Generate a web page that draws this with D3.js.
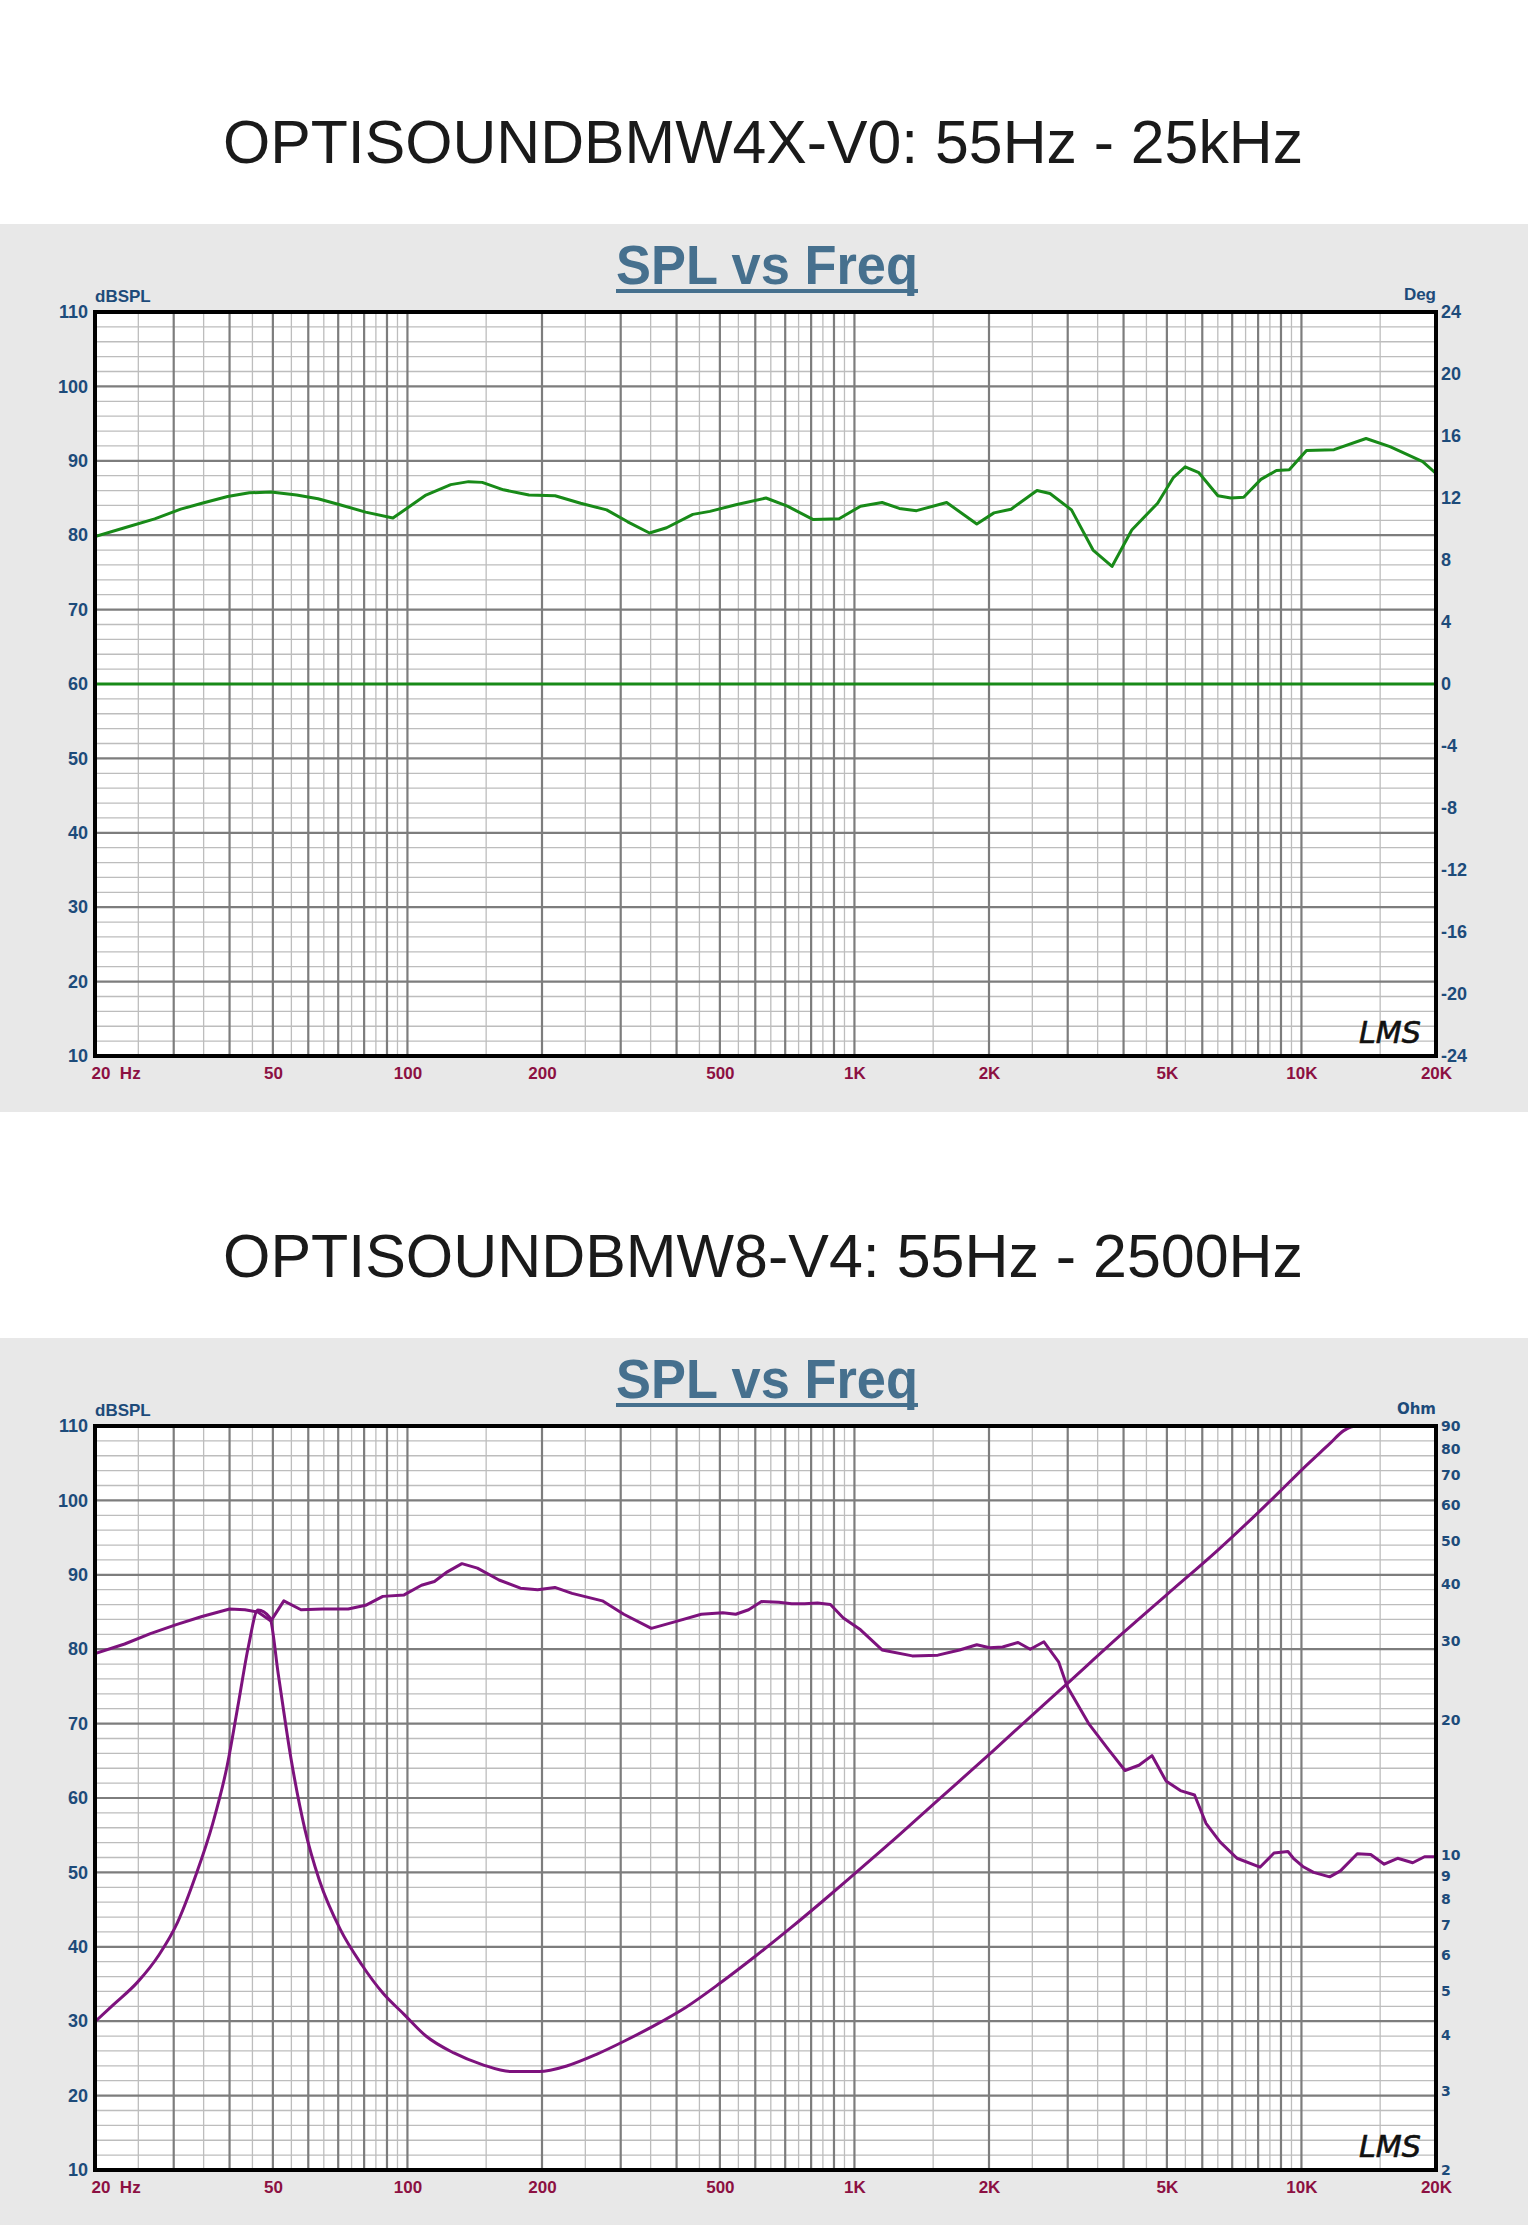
<!DOCTYPE html>
<html>
<head>
<meta charset="utf-8">
<script src="https://cdn.jsdelivr.net/npm/d3@7"></script>
<style>
  html, body { margin:0; padding:0; background:#ffffff; }
  svg { display:block; }
</style>
</head>
<body>
<svg id="chart" width="1528" height="2225"></svg>
<script>
// ---------------- DATA ----------------
const pageTitles = ["OPTISOUNDBMW4X-V0: 55Hz - 25kHz", "OPTISOUNDBMW8-V4: 55Hz - 2500Hz"];
const chartTitle = "SPL vs Freq";

const freqTicks = [20, 50, 100, 200, 500, 1000, 2000, 5000, 10000, 20000];
const freqTickLabels = ["20  Hz", "50", "100", "200", "500", "1K", "2K", "5K", "10K", "20K"];
const dbTicks = [110, 100, 90, 80, 70, 60, 50, 40, 30, 20, 10];
const degTicks = [24, 20, 16, 12, 8, 4, 0, -4, -8, -12, -16, -20, -24];
const ohmTicks = [90, 80, 70, 60, 50, 40, 30, 20, 10, 9, 8, 7, 6, 5, 4, 3, 2];

// Chart 1: SPL (dB) and phase (deg)
const c1Freq = [20, 23.3, 27.2, 31.1, 34.7, 39.6, 44.3, 49.5, 56.5, 63.1, 70.6, 80.6, 92.8, 110, 125, 137, 147, 164, 187, 214, 244, 279, 311, 348, 380, 435, 475, 543, 634, 708, 809, 924, 1032, 1153, 1260, 1377, 1608, 1878, 2052, 2241, 2561, 2738, 3059, 3418, 3769, 4173, 4767, 5163, 5495, 5896, 6503, 6950, 7427, 8115, 8791, 9393, 10263, 11830, 13948, 15778, 18676, 20000];
const c1Spl  = [79.8, 81.0, 82.2, 83.5, 84.3, 85.2, 85.7, 85.8, 85.4, 84.9, 84.1, 83.1, 82.3, 85.4, 86.8, 87.2, 87.1, 86.1, 85.4, 85.3, 84.3, 83.4, 81.8, 80.3, 81.0, 82.8, 83.2, 84.1, 85.0, 83.9, 82.1, 82.2, 83.9, 84.4, 83.6, 83.3, 84.4, 81.5, 83.0, 83.5, 86.0, 85.6, 83.4, 78.0, 75.8, 80.7, 84.3, 87.7, 89.2, 88.4, 85.3, 85.0, 85.1, 87.5, 88.7, 88.8, 91.4, 91.5, 93.0, 91.9, 89.9, 88.3];
const c1PhaseFreq = [20, 20000];
const c1Phase = [0, 0];

// Chart 2: SPL (dB) and impedance (ohm)
const c2Freq = [20, 23.3, 26.6, 30.4, 34.7, 40.0, 43.3, 46.3, 49.5, 52.9, 57.8, 64.6, 73.7, 80.6, 88.1, 98.3, 107.5, 114.9, 122.8, 132.4, 143.4, 160.3, 179.0, 195.6, 213.7, 233.5, 272.9, 304.8, 351.3, 397.8, 454.4, 507.5, 542.6, 579.8, 619.5, 677.3, 723.9, 773.7, 826.8, 883.7, 944.4, 1032, 1153, 1347, 1537, 1719, 1878, 2007, 2145, 2323, 2473, 2654, 2862, 2992, 3342, 3702, 4030, 4330, 4630, 4977, 5360, 5766, 6116, 6574, 7175, 8076, 8682, 9330, 9594, 10070, 10642, 11568, 12225, 13334, 14288, 15316, 16412, 17740, 18852, 20000];
const c2Spl  = [79.4, 80.7, 82.1, 83.3, 84.4, 85.4, 85.3, 85.0, 83.8, 86.5, 85.3, 85.4, 85.4, 85.9, 87.1, 87.3, 88.6, 89.1, 90.4, 91.5, 90.9, 89.3, 88.2, 88.0, 88.3, 87.5, 86.5, 84.7, 82.8, 83.7, 84.7, 84.9, 84.7, 85.3, 86.4, 86.3, 86.1, 86.1, 86.2, 86.0, 84.2, 82.6, 79.9, 79.1, 79.2, 79.9, 80.6, 80.2, 80.3, 80.9, 80.0, 81.0, 78.3, 75.0, 70.0, 66.5, 63.7, 64.4, 65.7, 62.3, 61.0, 60.4, 56.6, 54.1, 51.9, 50.7, 52.6, 52.8, 51.9, 50.8, 50.0, 49.4, 50.2, 52.5, 52.4, 51.1, 51.9, 51.3, 52.1, 52.1];
const c2ZFreq = [20, 22.0, 24.9, 27.8, 30.6, 33.6, 36.7, 39.5, 41.9, 44.1, 46.3, 49.2, 51.4, 54.9, 59.0, 63.5, 70.8, 79.1, 88.2, 98.4, 110, 127, 147, 170, 197, 228, 264, 306, 354, 420, 500, 600, 720, 850, 1000, 1200, 1450, 1700, 2052, 2500, 2966, 4000, 5000, 6503, 8000, 8953, 10070, 11568, 12434, 13334, 20000];
const c2Z    = [4.27, 4.66, 5.23, 6.01, 7.10, 9.02, 11.8, 15.8, 21.9, 29.2, 35.1, 33.8, 25.3, 16.4, 11.4, 8.82, 6.84, 5.71, 4.94, 4.43, 3.97, 3.64, 3.43, 3.31, 3.31, 3.41, 3.61, 3.87, 4.17, 4.6, 5.2, 5.97, 6.9, 7.92, 9.1, 10.65, 12.6, 14.5, 17.15, 20.5, 23.9, 31.3, 38.0, 47.7, 57.8, 64.4, 72.3, 82.2, 87.9, 90, 90];

// ---------------- DRAWING ----------------
const svg = d3.select("#chart");
const W = 1528;
const frame = { left: 95, right: 1436 };
const blue = "#1d4b7a", maroon = "#8c1042", titleBlue = "#46708e";
const green = "#188a18", purple = "#7d127d";
const labelFont = "'Liberation Sans',Arial,Helvetica,sans-serif";

function drawChart(offsetY, idx, opts) {
  const top = 312 + offsetY, bottom = 1056 + offsetY;
  const g = svg.append("g");

  // page title
  g.append("text")
    .attr("x", W / 2 - 1).attr("y", 163 + offsetY)
    .attr("text-anchor", "middle")
    .attr("font-family", "'Liberation Sans Narrow','Arial Narrow','Liberation Sans',Arial,sans-serif")
    .attr("font-size", 62).attr("fill", "#1a1a1a")
    .attr("textLength", 1080).attr("lengthAdjust", "spacingAndGlyphs")
    .text(pageTitles[idx]);

  // grey panel
  g.append("rect").attr("x", 0).attr("y", 224 + offsetY).attr("width", W).attr("height", 888)
    .attr("fill", "#e8e8e8");

  // chart title with underline
  g.append("text")
    .attr("x", 767).attr("y", 284 + offsetY).attr("text-anchor", "middle")
    .attr("font-family", "'Liberation Sans Narrow','Arial Narrow','Liberation Sans',Arial,sans-serif")
    .attr("font-weight", "bold").attr("font-size", 56).attr("fill", titleBlue)
    .attr("textLength", 302).attr("lengthAdjust", "spacingAndGlyphs")
    .text(chartTitle);
  g.append("rect").attr("x", 616).attr("y", 289 + offsetY).attr("width", 302).attr("height", 4)
    .attr("fill", titleBlue);

  const x = d3.scaleLog().domain([20, 20000]).range([frame.left, frame.right]);
  const y = d3.scaleLinear().domain([10, 110]).range([bottom, top]);

  // plot background
  g.append("rect").attr("x", frame.left).attr("y", top)
    .attr("width", frame.right - frame.left).attr("height", bottom - top).attr("fill", "#ffffff");

  // grid: vertical lines every half-unit of each decade
  const vLines = [];
  [10, 100, 1000, 10000].forEach(d => {
    for (let m = 1.5; m <= 10; m += 0.5) {
      const f = m * d;
      if (f > 20 && f < 20000) vLines.push({ f, major: Number.isInteger(m) });
    }
  });
  const hLines = d3.range(12, 110, 2).map(v => ({ v, major: v % 10 === 0 }));
  const grid = g.append("g");
  grid.selectAll("line.hmin").data(hLines.filter(d => !d.major)).join("line")
    .attr("x1", frame.left).attr("x2", frame.right)
    .attr("y1", d => y(d.v)).attr("y2", d => y(d.v))
    .attr("stroke", "#bdbdbd").attr("stroke-width", 1.3);
  grid.selectAll("line.vmin").data(vLines.filter(d => !d.major)).join("line")
    .attr("x1", d => x(d.f)).attr("x2", d => x(d.f))
    .attr("y1", top).attr("y2", bottom)
    .attr("stroke", "#bdbdbd").attr("stroke-width", 1.3);
  grid.selectAll("line.hmaj").data(hLines.filter(d => d.major)).join("line")
    .attr("x1", frame.left).attr("x2", frame.right)
    .attr("y1", d => y(d.v)).attr("y2", d => y(d.v))
    .attr("stroke", "#7d7d7d").attr("stroke-width", 2.2);
  grid.selectAll("line.vmaj").data(vLines.filter(d => d.major)).join("line")
    .attr("x1", d => x(d.f)).attr("x2", d => x(d.f))
    .attr("y1", top).attr("y2", bottom)
    .attr("stroke", "#7d7d7d").attr("stroke-width", 2.2);

  // clip
  const clipId = "clip" + idx;
  g.append("clipPath").attr("id", clipId).append("rect")
    .attr("x", frame.left).attr("y", top - 1).attr("width", frame.right - frame.left).attr("height", bottom - top + 2);

  // curves
  const curves = g.append("g").attr("clip-path", `url(#${clipId})`);
  opts.series.forEach(s => {
    const pts = s.freq.map((f, i) => [f, s.vals[i]]);
    const line = d3.line().x(d => x(d[0])).y(d => s.scale(d[1]));
    if (s.smooth) line.curve(d3.curveMonotoneX);
    curves.append("path").datum(pts).attr("d", line)
      .attr("fill", "none").attr("stroke", s.color).attr("stroke-width", 3)
      .attr("stroke-linejoin", "round").attr("stroke-linecap", "round");
  });

  // frame
  g.append("rect").attr("x", frame.left).attr("y", top)
    .attr("width", frame.right - frame.left).attr("height", bottom - top)
    .attr("fill", "none").attr("stroke", "#000").attr("stroke-width", 4);

  // LMS signature
  g.append("text").attr("x", 1390).attr("y", 1043 + offsetY).attr("text-anchor", "middle")
    .attr("font-family", "'DejaVu Sans',sans-serif").attr("font-style", "italic")
    .attr("font-size", 30).attr("fill", "#111").attr("stroke", "#111").attr("stroke-width", 0.6)
    .attr("textLength", 62).attr("lengthAdjust", "spacingAndGlyphs")
    .text("LMS");

  // left axis
  const yAxis = g.append("g").attr("transform", `translate(${frame.left},0)`)
    .call(d3.axisLeft(y).tickValues(dbTicks).tickSize(0).tickPadding(7).tickFormat(d => String(d)));
  yAxis.select(".domain").remove();
  yAxis.selectAll("text").attr("font-family", labelFont).attr("font-weight", "bold")
    .attr("font-size", 18).attr("fill", blue);

  // right axis
  const rAxis = g.append("g").attr("transform", `translate(${frame.right},0)`)
    .call(d3.axisRight(opts.rScale).tickValues(opts.rTicks).tickSize(0).tickPadding(5).tickFormat(d => String(d)));
  rAxis.select(".domain").remove();
  rAxis.selectAll("text").attr("font-family", opts.rFont).attr("font-weight", "bold")
    .attr("font-size", opts.rFontSize).attr("fill", blue);

  // bottom axis
  const xAxis = g.append("g").attr("transform", `translate(0,${bottom})`)
    .call(d3.axisBottom(x).tickValues(freqTicks).tickSize(0).tickPadding(11)
      .tickFormat((d, i) => freqTickLabels[i]));
  xAxis.select(".domain").remove();
  xAxis.selectAll("text").attr("font-family", labelFont).attr("font-weight", "bold")
    .attr("font-size", 17).attr("fill", maroon).style("white-space", "pre");
  xAxis.selectAll("text").filter(d => d === 20).attr("text-anchor", "start").attr("x", -4);

  // axis unit labels
  g.append("text").attr("x", frame.left).attr("y", 302 + offsetY)
    .attr("font-family", labelFont).attr("font-weight", "bold").attr("font-size", 17).attr("fill", blue)
    .text("dBSPL");
  g.append("text").attr("x", 1436).attr("y", 300 + offsetY).attr("text-anchor", "end")
    .attr("font-family", opts.unitFont).attr("font-weight", "bold").attr("font-size", opts.unitSize).attr("fill", blue)
    .text(opts.rUnit);

  return { x, y };
}

// Chart 1
(function () {
  const off = 0;
  const top = 312 + off, bottom = 1056 + off;
  const yDb = d3.scaleLinear().domain([10, 110]).range([bottom, top]);
  const yDeg = d3.scaleLinear().domain([-24, 24]).range([bottom, top]);
  drawChart(off, 0, {
    rScale: yDeg, rTicks: degTicks, rUnit: "Deg",
    rFont: labelFont, rFontSize: 18, unitFont: labelFont, unitSize: 17,
    series: [
      { freq: c1PhaseFreq, vals: c1Phase, scale: yDeg, color: green },
      { freq: c1Freq, vals: c1Spl, scale: yDb, color: green }
    ]
  });
})();

// Chart 2
(function () {
  const off = 1114;
  const top = 312 + off, bottom = 1056 + off;
  const yDb = d3.scaleLinear().domain([10, 110]).range([bottom, top]);
  const yOhm = d3.scaleLog().domain([2, 90]).range([bottom, top]);
  drawChart(off, 1, {
    rScale: yOhm, rTicks: ohmTicks, rUnit: "Ohm",
    rFont: "'DejaVu Sans',Verdana,sans-serif", rFontSize: 14, unitFont: "'DejaVu Sans',Verdana,sans-serif", unitSize: 15,
    series: [
      { freq: c2ZFreq, vals: c2Z, scale: yOhm, color: purple, smooth: true },
      { freq: c2Freq, vals: c2Spl, scale: yDb, color: purple }
    ]
  });
})();
</script>
</body>
</html>
